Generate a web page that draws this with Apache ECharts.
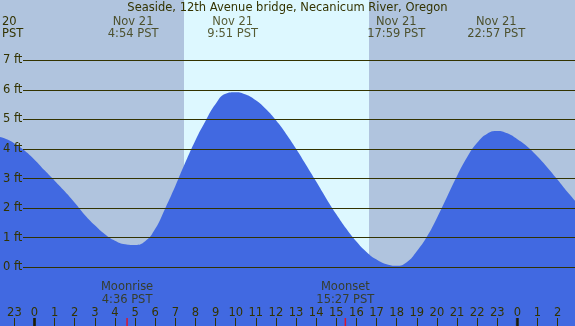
<!DOCTYPE html>
<html>
<head>
<meta charset="utf-8">
<script src="https://cdn.jsdelivr.net/npm/echarts@6/dist/echarts.min.js"></script>
<style>
html, body { margin: 0; padding: 0; background: #fff; }
#tide-graph { width: 575px; height: 326px; }
</style>
</head>
<body>
<div id="tide-graph"></div>
<script>
var chart_title = 'Seaside, 12th Avenue bridge, Necanicum River, Oregon';

/* Tide height (ft) every half hour, hours from midnight Nov 21 PST. */
var tide_hours = [-2.0, -1.5, -1.0, -0.5, 0.0, 0.5, 1.0, 1.5, 2.0, 2.5, 3.0, 3.5, 4.0, 4.5, 5.0, 5.5, 6.0, 6.5,
                  7.0, 7.5, 8.0, 8.5, 9.0, 9.5, 10.0, 10.5, 11.0, 11.5, 12.0, 12.5, 13.0, 13.5, 14.0, 14.5,
                  15.0, 15.5, 16.0, 16.5, 17.0, 17.5, 18.0, 18.5, 19.0, 19.5, 20.0, 20.5, 21.0, 21.5, 22.0,
                  22.5, 23.0, 23.5, 24.0, 24.5, 25.0, 25.5, 26.0, 26.5, 27.0];
var tide_feet  = [4.44, 4.36, 4.19, 3.95, 3.64, 3.28, 2.93, 2.57, 2.18, 1.77, 1.42, 1.12, 0.9, 0.78, 0.755, 0.88,
                  1.3, 2.0, 2.75, 3.55, 4.3, 4.95, 5.52, 5.87, 5.92, 5.84, 5.645, 5.35, 4.97, 4.52, 4.01, 3.46,
                  2.9, 2.33, 1.79, 1.3, 0.87, 0.52, 0.26, 0.1, 0.05, 0.17, 0.54, 1.03, 1.67, 2.38, 3.09, 3.72,
                  4.21, 4.52, 4.61, 4.53, 4.33, 4.08, 3.75, 3.37, 2.96, 2.54, 2.15];

var extreme_hours  = [4.9, 9.85, 17.98, 22.95];
var extreme_labels = ['Nov 21\n4:54 PST', 'Nov 21\n9:51 PST', 'Nov 21\n17:59 PST', 'Nov 21\n22:57 PST'];

var moon_hours  = [4.6, 15.45];
var moon_labels = ['Moonrise\n4:36 PST', 'Moonset\n15:27 PST'];

var sun_hours = [7.43, 16.625];   /* sunrise, sunset */

var midnight_hours = [0, 24];


var text_color = '#333300';
var font_family = 'DejaVu Sans';
var font_size = 11.5;

var x_min = -1.715, x_max = 26.864;
var y_min = -1.985, y_max = 9.039;

var tide_graph = echarts.init(document.getElementById('tide-graph'));

var echarts_options = {
    animation: false,
    textStyle: { fontFamily: font_family, fontSize: font_size, color: text_color },
    title: {
        text: chart_title,
        left: 'center',
        top: 2,
        padding: 0,
        textStyle: { fontFamily: font_family, fontSize: font_size, fontWeight: 'normal', color: text_color, lineHeight: 13 }
    },
    graphic: [
        {
            type: 'text',
            left: 2,
            top: 15.5,
            style: { text: '20\nPST', fill: text_color, font: font_size + 'px "' + font_family + '"', lineHeight: 12.5 }
        }
    ],
    grid: [
        { left: 0, right: 0, top: 0, bottom: 0, show: true, backgroundColor: '#b0c4de', borderWidth: 0 },
        { left: 22, right: 0, top: 60.3, bottom: 58.7 },
        /* hour axis: -1h .. 26h, 20.12 px per hour */
        { left: 14.38, right: 17.38, top: 0, bottom: 0 }
    ],
    xAxis: [
        { gridIndex: 0, type: 'value', min: x_min, max: x_max, show: false },
        { gridIndex: 1, type: 'value', min: 0, max: 1, show: false },
        {
            gridIndex: 2,
            type: 'value',
            min: -1,
            max: 26,
            interval: 1,
            z: 5,
            axisLine: { show: false },
            splitLine: { show: false },
            axisTick: { inside: true, length: 8, lineStyle: { color: text_color } },
            axisLabel: {
                inside: true,
                margin: 7,
                color: text_color,
                fontSize: font_size,
                showMinLabel: true,
                showMaxLabel: true,
                hideOverlap: false,
                formatter: function (v) { return String(((v % 24) + 24) % 24); }
            }
        }
    ],
    yAxis: [
        { gridIndex: 0, type: 'value', min: y_min, max: y_max, show: false },
        {
            gridIndex: 1,
            type: 'value',
            min: 0,
            max: 7,
            interval: 1,
            z: 5,
            axisLine: { show: false },
            axisTick: { show: false },
            splitLine: { lineStyle: { color: text_color, width: 1 } },
            axisLabel: { formatter: '{value} ft', align: 'left', margin: 20, color: text_color, fontSize: font_size }
        },
        { gridIndex: 2, type: 'value', min: 0, max: 1, show: false }
    ],
    series: [
        {
            name: 'daylight',
            type: 'line',
            xAxisIndex: 0,
            yAxisIndex: 0,
            data: [],
            z: 1,
            markArea: {
                silent: true,
                itemStyle: { color: '#ddf8ff' },
                data: [[{ xAxis: sun_hours[0] }, { xAxis: sun_hours[1] }]]
            }
        },
        {
            name: 'tide',
            type: 'line',
            xAxisIndex: 0,
            yAxisIndex: 0,
            z: 2,
            smooth: 0.5,
            showSymbol: false,
            lineStyle: { width: 0 },
            areaStyle: { color: '#4169e1', opacity: 1, origin: 'start' },
            data: tide_hours.map(function (h, i) { return [h, tide_feet[i]]; })
        },
        {
            name: 'extremes',
            type: 'scatter',
            xAxisIndex: 0,
            yAxisIndex: 0,
            z: 4,
            symbolSize: 0,
            silent: true,
            label: {
                show: true,
                position: 'bottom',
                distance: 15.5,
                color: text_color,
                fontSize: font_size,
                lineHeight: 12.5,
                formatter: function (p) { return extreme_labels[p.dataIndex]; }
            },
            data: extreme_hours.map(function (h) { return [h, y_max]; })
        },
        {
            name: 'moon',
            type: 'scatter',
            xAxisIndex: 0,
            yAxisIndex: 0,
            z: 4,
            symbol: 'rect',
            symbolSize: [1.5, 16],
            silent: true,
            itemStyle: { color: '#ff0000' },
            label: {
                show: true,
                position: 'top',
                distance: 12,
                color: text_color,
                fontSize: font_size,
                lineHeight: 12.5,
                formatter: function (p) { return moon_labels[p.dataIndex]; }
            },
            data: moon_hours.map(function (h) { return [h, y_min]; })
        },
        {
            name: 'midnight',
            type: 'scatter',
            xAxisIndex: 0,
            yAxisIndex: 0,
            z: 6,
            symbol: 'rect',
            symbolSize: [3, 16],
            silent: true,
            itemStyle: { color: '#1a1a00' },
            data: midnight_hours.map(function (h) { return [h, y_min]; })
        }
    ]
};

tide_graph.setOption(echarts_options);
</script>
</body>
</html>
